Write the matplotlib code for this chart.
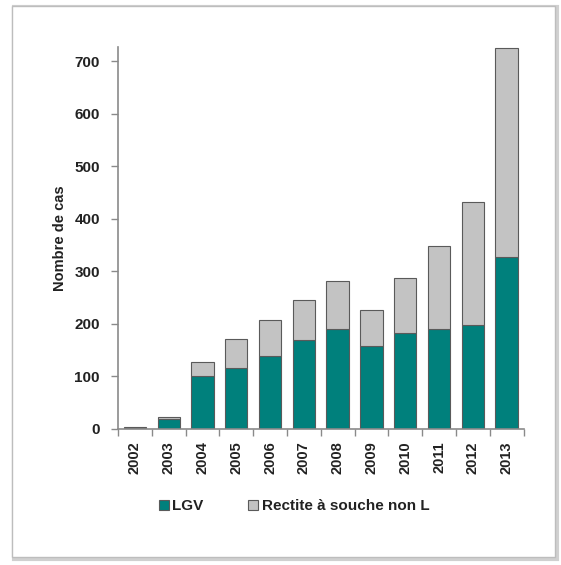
import matplotlib.pyplot as plt
from matplotlib.patches import Rectangle
from matplotlib.ticker import FixedLocator
import numpy as np

plt.rcParams['font.family'] = ['Liberation Sans', 'DejaVu Sans']
plt.rcParams['font.weight'] = 'bold'

years = ["2002", "2003", "2004", "2005", "2006", "2007",
         "2008", "2009", "2010", "2011", "2012", "2013"]
lgv = [2, 19, 101, 117, 139, 170, 191, 158, 183, 191, 197, 327]
totals = [4, 23, 127, 171, 208, 245, 282, 226, 288, 349, 432, 725]
non_l = [t - l for t, l in zip(totals, lgv)]

teal = "#00807c"
grey = "#c3c3c3"
edge = "#5a5a5a"
axis_col = "#8a8a8a"
text_col = "#222222"

fig = plt.figure(figsize=(5.61, 5.65), dpi=100)

# cadre autour du graphique (avec ombre)
fig.patches.append(Rectangle((14 / 561, 1 - 559 / 565), 543 / 561, 552 / 565,
                             transform=fig.transFigure, facecolor="none",
                             edgecolor="#d0d0d0", linewidth=3, zorder=-2))
fig.patches.append(Rectangle((12 / 561, 1 - 557 / 565), 543 / 561, 551 / 565,
                             transform=fig.transFigure, facecolor="white",
                             edgecolor="#bdbdbd", linewidth=1, zorder=-1))

ax = fig.add_axes([118 / 561, 1 - 429 / 565, 405.5 / 561, 382 / 565])
ax.set_zorder(3)
ax.patch.set_alpha(0)

x = np.arange(len(years))
ax.bar(x, lgv, width=0.66, color=teal, edgecolor=edge, linewidth=0.8, label="LGV")
ax.bar(x, non_l, width=0.66, bottom=lgv, color=grey, edgecolor=edge,
       linewidth=0.8, label="Rectite à souche non L")

ax.set_xlim(-0.5, len(years) - 0.5)
ax.set_ylim(0, 727)
ax.set_yticks(range(0, 701, 100))
ax.set_xticks(x)
ax.set_xticklabels(years, rotation=90)
ax.xaxis.set_minor_locator(FixedLocator(np.arange(-0.5, len(years), 1.0)))
ax.tick_params(axis="x", which="major", length=0, pad=9, labelsize=10.5,
               labelcolor=text_col)
ax.tick_params(axis="x", which="minor", length=5, color=axis_col, width=1)
ax.tick_params(axis="y", length=5, color=axis_col, width=1, labelsize=11, pad=8,
               labelcolor=text_col)

for s in ["top", "right"]:
    ax.spines[s].set_visible(False)
for s in ["left", "bottom"]:
    ax.spines[s].set_color(axis_col)
    ax.spines[s].set_linewidth(1.2)

ax.set_ylabel("Nombre de cas", fontsize=10.5, fontweight="bold", labelpad=5,
              color=text_col)

leg = fig.legend(loc="center", bbox_to_anchor=(294 / 561, 1 - 506 / 565), ncol=2,
                 frameon=False, fontsize=11, handlelength=0.65, handleheight=0.65,
                 handletextpad=0.25, columnspacing=2.9)
for t in leg.get_texts():
    t.set_color(text_col)

fig.savefig("out.png", dpi=100)
